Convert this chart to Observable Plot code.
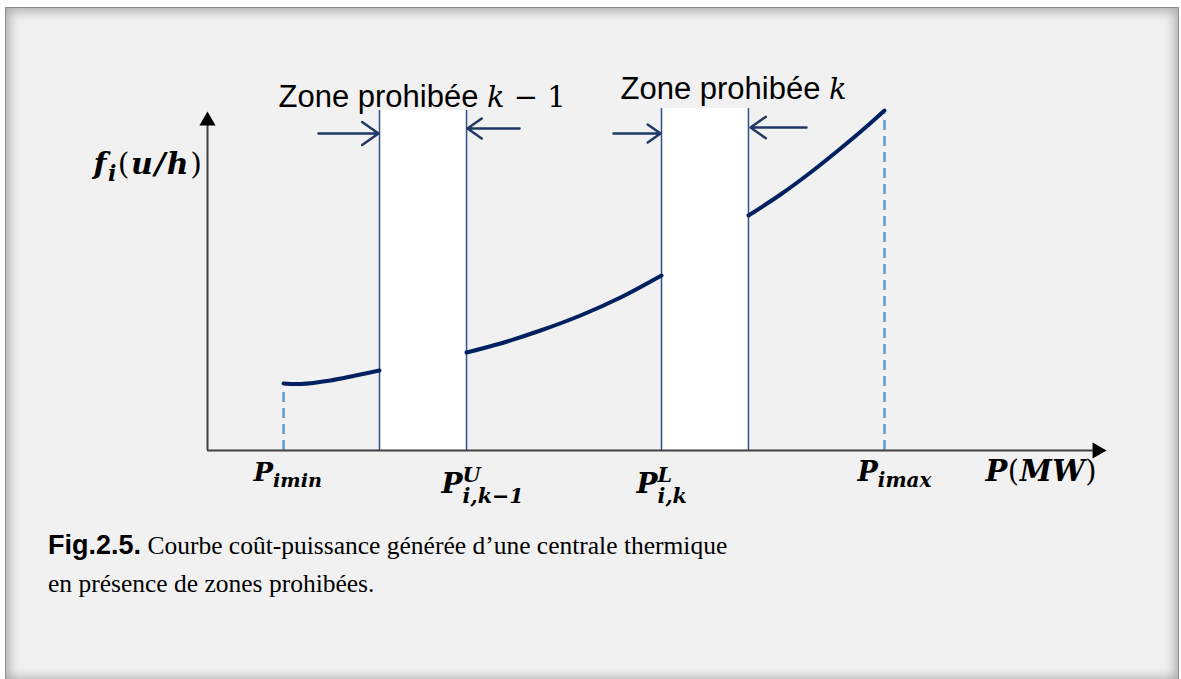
<!DOCTYPE html>
<html><head><meta charset="utf-8">
<script src="https://cdn.jsdelivr.net/npm/d3@7"></script>
<script src="https://cdn.jsdelivr.net/npm/@observablehq/plot@0.6"></script>
<style>
html,body{margin:0;padding:0;background:#fff;width:1181px;height:679px;overflow:hidden;}
#frame{position:absolute;left:5px;top:7px;width:1174px;height:675px;background:#f1f1f1;border:1px solid #8c8c8c;box-sizing:border-box;box-shadow:inset 0 0 12px 3px rgba(0,0,0,0.3);}
#chart{position:absolute;left:0;top:0;}
#caption{position:absolute;left:48px;top:526px;font-family:"Liberation Serif","Times New Roman",serif;font-size:25.5px;line-height:38px;color:#000;white-space:nowrap;}
#caption b{font-family:"Liberation Sans",Arial,sans-serif;font-size:27px;}
</style></head><body>
<div id="frame"></div>
<div id="chart"></div>
<div id="caption"><b>Fig.2.5.</b> Courbe coût-puissance générée d’une centrale thermique<br>en présence de zones prohibées.</div>
<script>
// ---- data (P in % of axis length, f in % of axis height) ----
const seg1P = [8.44, 10.32, 13.65, 16.43, 19.09];
const seg1F = [19.82, 19.67, 20.71, 22.19, 23.67];
const seg2P = [28.75, 32.52, 36.96, 41.40, 45.84, 50.39];
const seg2F = [28.99, 31.66, 35.50, 39.94, 45.27, 51.78];
const seg3P = [60.04, 63.60, 66.93, 70.26, 73.03, 75.14];
const seg3F = [69.53, 75.74, 82.25, 89.35, 95.56, 100.59];

const zoneLow = [19.09, 50.39];
const zoneHigh = [28.75, 60.04];
const zoneTop = [100.6, 101.2];
const zoneNames = ["Zone prohibée", "Zone prohibée"];
const zoneIndex = ["k − 1", "k"];
const zoneLabelP = [7.88, 45.84];
const zoneLabelF = [101.48, 104.14];

const arrowFrom = [12.32, 34.63, 45.06, 66.48];
const arrowTo = [18.98, 28.86, 50.28, 60.27];
const arrowF = [93.79, 95.27, 93.79, 95.56];

const limitP = [8.44, 75.14];
const limitF = [18.9, 99.6];

const axisLabels = ["P_{imin}", "P^{U}_{i,k−1}", "P^{L}_{i,k}", "P_{imax}", "P(MW)", "f_{i}(u/h)"];
const axisLabelP = [5.1, 25.97, 47.61, 72.14, 86.35, -12.65];
const axisLabelF = [-8.9, -12.72, -12.72, -8.9, -8.9, 81.95];
const axisLabelSize = [26, 28, 28, 27, 29, 30];
const axisLabelSpacing = [0, 0, 0, 0, 0.5, 1.5];

// ---- tables ----
const curve = [];
[[seg1P, seg1F], [seg2P, seg2F], [seg3P, seg3F]].forEach(([ps, fs], s) =>
  ps.forEach((p, i) => curve.push({seg: s, p, f: fs[i]})));
const zones = zoneLow.map((lo, i) => ({lo, hi: zoneHigh[i], top: zoneTop[i]}));
const zoneLabels = zoneNames.map((name, i) => ({name, p: zoneLabelP[i], f: zoneLabelF[i]}));
const arrows = arrowFrom.map((a, i) => ({p1: a, p2: arrowTo[i], f: arrowF[i]}));
const limits = limitP.map((p, i) => ({p, f: limitF[i]}));
const labels = axisLabels.map((src, i) => ({src, p: axisLabelP[i], f: axisLabelF[i], size: axisLabelSize[i]}));
const heads = [{p: 0, f: 97.5, rot: 0}, {p: 98.75, f: 0, rot: 90}];

const plot = Plot.plot({
  width: 1181, height: 500,
  marginLeft: 207, marginRight: 73, marginTop: 112, marginBottom: 50,
  x: {domain: [0, 100], axis: null},
  y: {domain: [0, 100], axis: null},
  style: {background: "transparent", overflow: "visible"},
  marks: [
    Plot.rect(zones, {x1: "lo", x2: "hi", y1: 0, y2: "top", fill: "white"}),
    Plot.ruleX(zones, {x: "lo", y1: 0, y2: "top", stroke: "#2f528f", strokeWidth: 1.5}),
    Plot.ruleX(zones, {x: "hi", y1: 0, y2: "top", stroke: "#2f528f", strokeWidth: 1.5}),
    Plot.ruleX(limits, {x: "p", y1: 0, y2: "f", stroke: "#5b9bd5", strokeWidth: 2.5, strokeDasharray: "10,6"}),
    Plot.line(curve, {x: "p", y: "f", z: "seg", stroke: "#002060", strokeWidth: 4, curve: "catmull-rom"}),
    Plot.ruleX([0], {y1: 0, y2: 97, stroke: "#404040", strokeWidth: 2}),
    Plot.ruleY([0], {x1: 0, x2: 98.3, stroke: "#404040", strokeWidth: 2}),
    Plot.dot(heads, {x: "p", y: "f", rotate: "rot", symbol: "triangle", r: 6, fill: "#000", stroke: "none"}),
    Plot.arrow(arrows, {x1: "p1", x2: "p2", y1: "f", y2: "f", stroke: "#1f3864", strokeWidth: 2.5, headLength: 16, headAngle: 70}),
    Plot.text(zoneLabels, {x: "p", y: "f", text: "name", textAnchor: "start", lineAnchor: "bottom",
      fontSize: 31, fontFamily: "Liberation Sans, Arial, sans-serif", fill: "#000"}),
    Plot.text(labels, {x: "p", y: "f", text: "src", fontSize: "size", textAnchor: "start", lineAnchor: "bottom",
      fontFamily: "DejaVu Serif, serif", fontWeight: "bold", fontStyle: "italic", fill: "#000"})
  ]
});
document.getElementById("chart").appendChild(plot);

const NS = "http://www.w3.org/2000/svg";
function addSpan(el, txt, attrs) {
  const t = document.createElementNS(NS, "tspan");
  t.textContent = txt;
  for (const k in attrs) t.setAttribute(k, attrs[k]);
  el.appendChild(t);
  return t;
}

// zone labels: append the math index
Array.from(plot.querySelectorAll("text")).filter(el => zoneNames.includes(el.textContent)).forEach((el, i) => {
  const idx = zoneIndex[i];
  addSpan(el, " ", {});
  addSpan(el, idx[0], {"font-family": "DejaVu Serif, serif", "font-style": "italic", "font-size": 29});
  if (idx.length > 1) addSpan(el, idx.slice(1), {"font-family": "DejaVu Serif, serif", "font-size": 29});
});

// math labels with sub/superscripts
Array.from(plot.querySelectorAll("text")).filter(el => axisLabels.includes(el.textContent)).forEach(el => {
  const src = el.textContent;
  const k = axisLabels.indexOf(src);
  if (axisLabelSpacing[k]) el.setAttribute("letter-spacing", axisLabelSpacing[k]);
  const size = parseFloat(getComputedStyle(el).fontSize);
  const small = size * 0.74;
  el.textContent = "";
  const tokens = [];
  let i = 0;
  while (i < src.length) {
    const c = src[i];
    if (c === "_" || c === "^") {
      let s;
      if (src[i + 1] === "{") { const j = src.indexOf("}", i + 2); s = src.slice(i + 2, j); i = j + 1; }
      else { s = src[i + 1]; i += 2; }
      tokens.push({t: c, s});
    } else {
      let j = i;
      while (j < src.length && src[j] !== "_" && src[j] !== "^") j++;
      tokens.push({t: "n", s: src.slice(i, j)});
      i = j;
    }
  }
  let cur = 0, prev = null, supLen = 0;
  for (const tk of tokens) {
    if (tk.t === "n") {
      for (const part of tk.s.split(/([()])/).filter(d => d)) {
        const a = {dy: -cur};
        if (part === "(" || part === ")") { a["font-style"] = "normal"; a["font-weight"] = "normal"; }
        addSpan(el, part, a);
        cur = 0;
      }
    } else if (tk.t === "^") {
      const target = -0.42 * size;
      const sp = addSpan(el, tk.s, {dy: target - cur, "font-size": small});
      supLen = sp.getComputedTextLength();
      cur = target;
    } else {
      const target = prev === "^" ? 0.34 * size : 0.24 * size;
      const a = {dy: target - cur, "font-size": small};
      if (prev === "^") a.dx = -supLen;
      addSpan(el, tk.s, a);
      cur = target;
    }
    prev = tk.t;
  }
});
</script>
</body></html>
